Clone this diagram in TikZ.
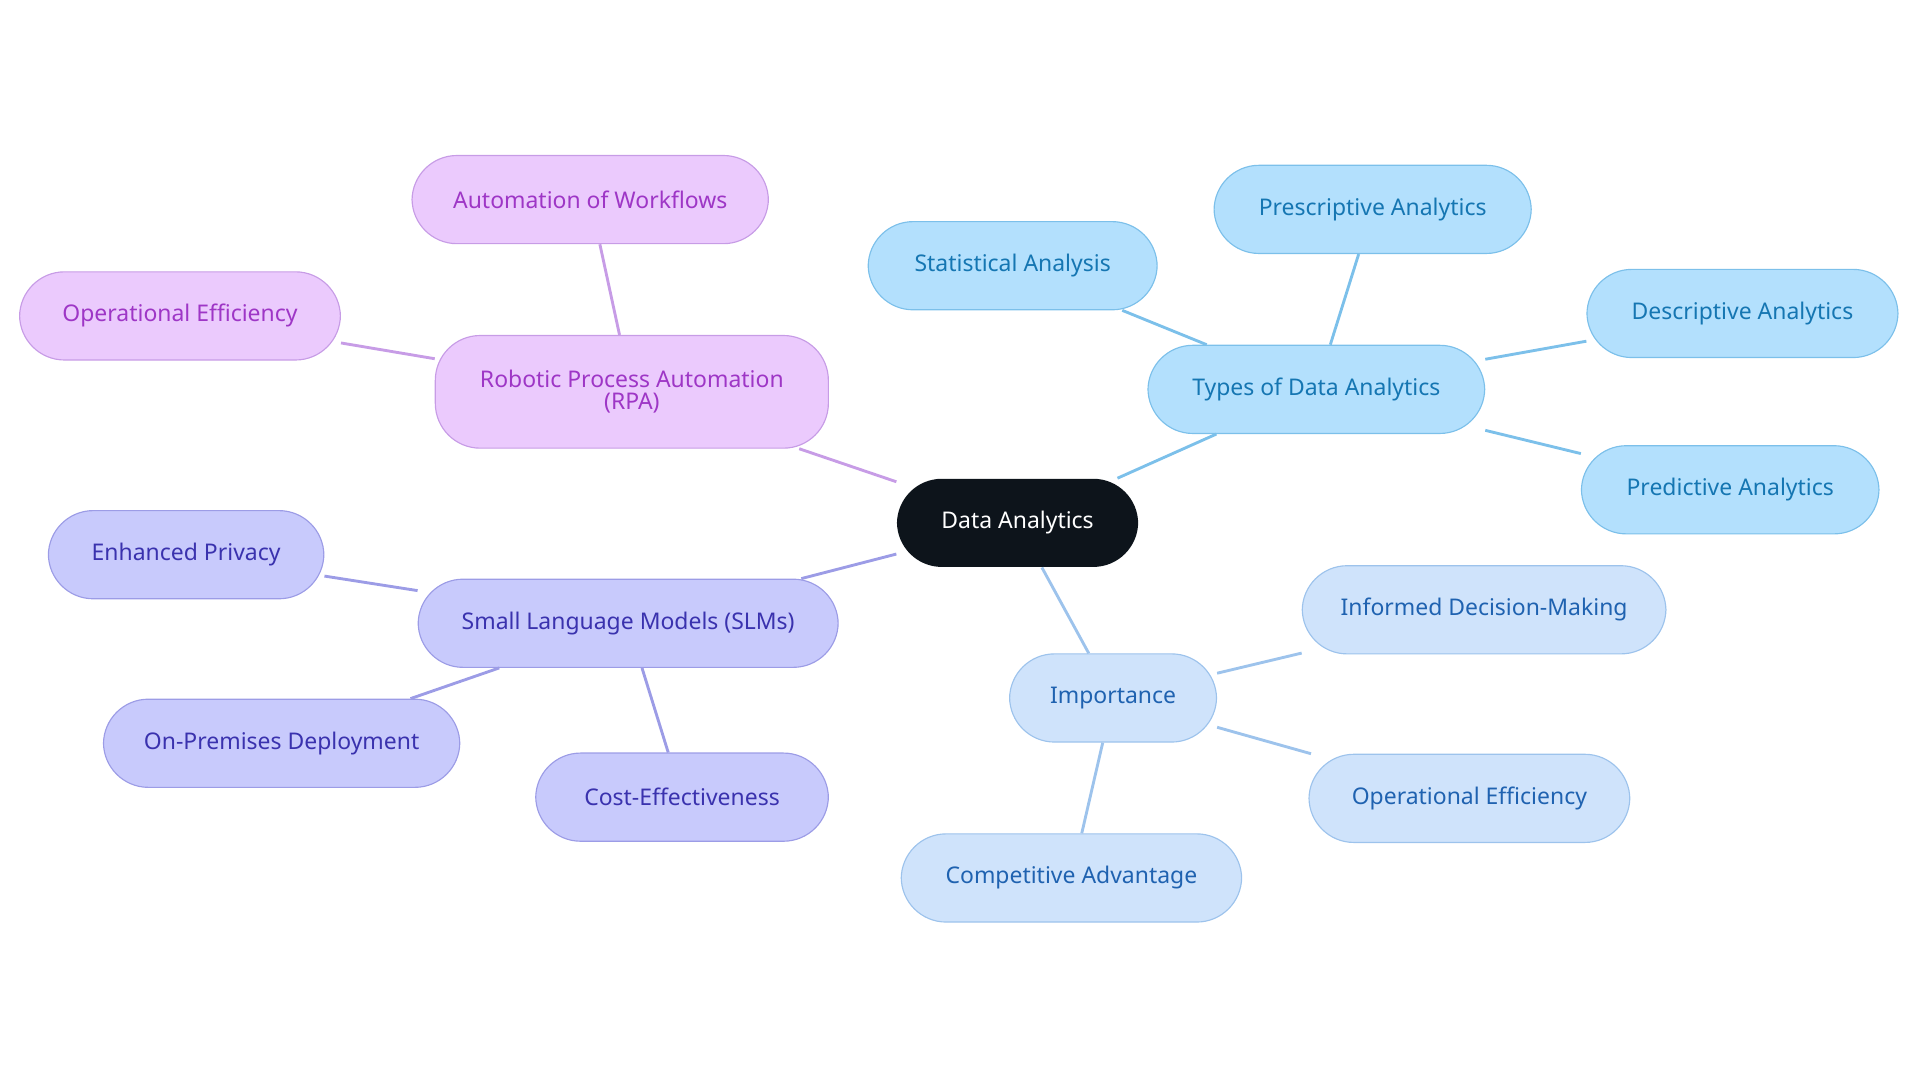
\documentclass[tikz,border=0pt]{standalone}
\usepackage{fontspec}
\setmainfont{Noto Sans}
\usetikzlibrary{positioning}
\definecolor{rootbg}{HTML}{0D141B}
\definecolor{tybg}{HTML}{B3E0FD}\definecolor{tyln}{HTML}{7CC0EA}\definecolor{tytx}{HTML}{1576B2}
\definecolor{imbg}{HTML}{CFE3FB}\definecolor{imln}{HTML}{9DC3EC}\definecolor{imtx}{HTML}{1F62B0}
\definecolor{rpbg}{HTML}{EBCAFD}\definecolor{rpln}{HTML}{C79CE6}\definecolor{rptx}{HTML}{9E36C6}
\definecolor{slbg}{HTML}{C8CAFC}\definecolor{slln}{HTML}{9C9CE6}\definecolor{sltx}{HTML}{3A32AE}
\tikzset{
  box/.style={rounded corners=11mm,minimum height=21.6mm,inner sep=2pt,align=center,
    font=\fontsize{16}{15}\selectfont,line width=0.8pt},
  ty/.style={box,fill=tybg,draw=tyln,text=tytx},
  im/.style={box,fill=imbg,draw=imln,text=imtx},
  rp/.style={box,fill=rpbg,draw=rpln,text=rptx},
  sl/.style={box,fill=slbg,draw=slln,text=sltx},
  lk/.style={line width=2pt}
}
\begin{document}
\begin{tikzpicture}[x=0.3mm,y=-0.3mm]
\useasboundingbox (0,0) rectangle (1568,884);
% branch edges first
\coordinate (c) at (831,427);
\node[box,fill=rootbg,text=white,minimum width=59.1mm] (root) at (831,427) {Data Analytics};
% types
\node[ty,minimum width=82.5mm] (types) at (1075,318) {Types of Data Analytics};
\node[ty,minimum width=70.8mm] (stat) at (827,217) {Statistical Analysis};
\node[ty,minimum width=77.7mm] (presc) at (1121,171) {Prescriptive Analytics};
\node[ty,minimum width=76.2mm] (desc) at (1423,256) {Descriptive Analytics};
\node[ty,minimum width=72.9mm] (pred) at (1413,400) {Predictive Analytics};
% importance
\node[im,minimum width=50.7mm] (imp) at (909,570) {Importance};
\node[im,minimum width=89.1mm] (idm) at (1212,498) {Informed Decision-Making};
\node[im,minimum width=78.6mm] (opeff) at (1200,652) {Operational Efficiency};
\node[im,minimum width=83.4mm] (comp) at (875,717) {Competitive Advantage};
% rpa
\node[rp,minimum width=96.3mm,minimum height=27.6mm] (rpa) at (516,320) {Robotic Process Automation\\(RPA)};
\node[rp,minimum width=87.3mm] (auto) at (482,163) {Automation of Workflows};
\node[rp,minimum width=78.6mm] (rpeff) at (147,258) {Operational Efficiency};
% slm
\node[sl,minimum width=102.9mm] (slm) at (513,509) {Small Language Models (SLMs)};
\node[sl,minimum width=67.5mm] (priv) at (152,453) {Enhanced Privacy};
\node[sl,minimum width=87.3mm] (prem) at (230,607) {On-Premises Deployment};
\node[sl,minimum width=71.7mm] (cost) at (557,651) {Cost-Effectiveness};
\begin{scope}[on background layer/.try]
\end{scope}
\begin{pgfinterruptboundingbox}\end{pgfinterruptboundingbox}
% connectors
\draw[lk,draw=tyln] (root) -- (types);
\foreach \n in {stat,presc,desc,pred} \draw[lk,draw=tyln] (types) -- (\n);
\draw[lk,draw=imln] (root) -- (imp);
\foreach \n in {idm,opeff,comp} \draw[lk,draw=imln] (imp) -- (\n);
\draw[lk,draw=rpln] (root) -- (rpa);
\foreach \n in {auto,rpeff} \draw[lk,draw=rpln] (rpa) -- (\n);
\draw[lk,draw=slln] (root) -- (slm);
\foreach \n in {priv,prem,cost} \draw[lk,draw=slln] (slm) -- (\n);
\end{tikzpicture}
\end{document}
